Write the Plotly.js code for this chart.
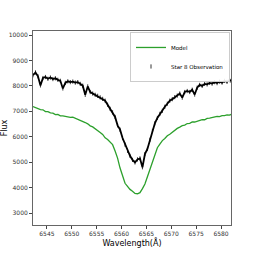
<!DOCTYPE html>
<html>
<head>
<meta charset="utf-8">
<script src="https://cdn.plot.ly/plotly-3.0.1.min.js"></script>
<style>html,body{margin:0;padding:0;background:#fff;}#chart{width:258px;height:258px;}</style>
</head>
<body>
<div id="chart"></div>
<script>
const wavelength = [6542.2, 6542.7, 6543.2, 6543.7, 6544.2, 6544.7, 6545.2, 6545.7, 6546.2, 6546.7,
  6547.2, 6547.7, 6548.2, 6548.7, 6549.2, 6549.7, 6550.2, 6550.7, 6551.2, 6551.7,
  6552.2, 6552.7, 6553.2, 6553.7, 6554.2, 6554.7, 6555.2, 6555.7, 6556.2, 6556.7,
  6557.2, 6557.7, 6558.2, 6558.7, 6559.2, 6559.7, 6560.2, 6560.7, 6561.2, 6561.7,
  6562.2, 6562.7, 6563.2, 6563.7, 6564.2, 6564.7, 6565.2, 6565.7, 6566.2, 6566.7,
  6567.2, 6567.7, 6568.2, 6568.7, 6569.2, 6569.7, 6570.2, 6570.7, 6571.2, 6571.7,
  6572.2, 6572.7, 6573.2, 6573.7, 6574.2, 6574.7, 6575.2, 6575.7, 6576.2, 6576.7,
  6577.2, 6577.7, 6578.2, 6578.7, 6579.2, 6579.7, 6580.2, 6580.7, 6581.2, 6581.7, 6582.0];

const observedFlux = [8420, 8530, 8380, 8020, 8310, 8350, 8280, 8330, 8270, 8300,
  8240, 8200, 7900, 8120, 8180, 8150, 8170, 8130, 8150, 8080,
  8010, 7650, 7980, 7760, 7700, 7650, 7610, 7550, 7490, 7420,
  7260, 7100, 6960, 6780, 6450, 6280, 5950, 5690, 5450, 5250,
  5090, 4990, 5110, 5150, 4800, 5320, 5520, 5880, 6230, 6530,
  6740, 6900, 7020, 7180, 7300, 7420, 7480, 7560, 7620, 7700,
  7540, 7760, 7800, 7760, 7850, 7660, 7930, 8040, 8000, 8080,
  8060, 8120, 8090, 8150, 8110, 8170, 8130, 8200, 8160, 8230, 8200];

const modelFlux = [7190, 7140, 7120, 7070, 7060, 6990, 6990, 6940, 6930, 6870,
  6880, 6820, 6820, 6790, 6790, 6760, 6770, 6730, 6710, 6660,
  6630, 6560, 6510, 6430, 6390, 6320, 6270, 6170, 6090, 5960,
  5890, 5790, 5690, 5440, 5160, 4770, 4430, 4170, 4050, 3930,
  3860, 3770, 3760, 3800, 3960, 4140, 4430, 4710, 5030, 5310,
  5570, 5710, 5850, 5930, 6040, 6100, 6190, 6240, 6330, 6380,
  6440, 6460, 6520, 6530, 6580, 6580, 6620, 6630, 6670, 6670,
  6720, 6730, 6760, 6760, 6800, 6790, 6830, 6830, 6860, 6850, 6880];

const xTicks = [6545, 6550, 6555, 6560, 6565, 6570, 6575, 6580];
const yTicks = [3000, 4000, 5000, 6000, 7000, 8000, 9000, 10000];

const traces = [
  {x: wavelength, y: modelFlux, type: 'scatter', mode: 'lines', name: 'Model',
   line: {color: '#2ca02c', width: 1.3}},
  {x: wavelength, y: observedFlux, type: 'scatter', mode: 'lines', showlegend: false,
   line: {color: '#000000', width: 1.8}, hoverinfo: 'skip'},
  {x: wavelength, y: observedFlux, type: 'scatter', mode: 'markers', name: 'Star 8 Observation',
   marker: {symbol: 'line-ns-open', size: 3, color: '#000000', line: {color: '#000000', width: 0.8}}}
];

const axisCommon = {
  showline: true, mirror: true, linecolor: '#666', linewidth: 1,
  ticks: 'outside', ticklen: 3, tickwidth: 1, tickcolor: '#444',
  showgrid: false, zeroline: false,
  tickfont: {size: 6, color: '#333', family: 'DejaVu Sans'}
};

const layout = {
  width: 258, height: 258,
  margin: {l: 33, r: 27, t: 31, b: 33},
  paper_bgcolor: '#fff', plot_bgcolor: '#fff',
  font: {family: 'DejaVu Sans', color: '#000'},
  xaxis: Object.assign({}, axisCommon, {
    range: [6542.2, 6582], tickvals: xTicks, ticktext: xTicks.map(String),
    title: {text: 'Wavelength(Å)', font: {size: 8, color: '#000'}, standoff: 1}
  }),
  yaxis: Object.assign({}, axisCommon, {
    range: [2530, 10160], tickvals: yTicks, ticktext: yTicks.map(String),
    title: {text: 'Flux', font: {size: 8, color: '#000'}, standoff: 4}
  }),
  showlegend: true,
  legend: {x: 0.995, y: 0.995, xanchor: 'right', yanchor: 'top',
    bgcolor: 'rgba(255,255,255,0.9)', bordercolor: '#ccc', borderwidth: 1,
    font: {size: 5.5, color: '#000'}, itemwidth: 30, tracegroupgap: 0}
};

Plotly.newPlot('chart', traces, layout, {staticPlot: true, displayModeBar: false});
</script>
</body>
</html>
